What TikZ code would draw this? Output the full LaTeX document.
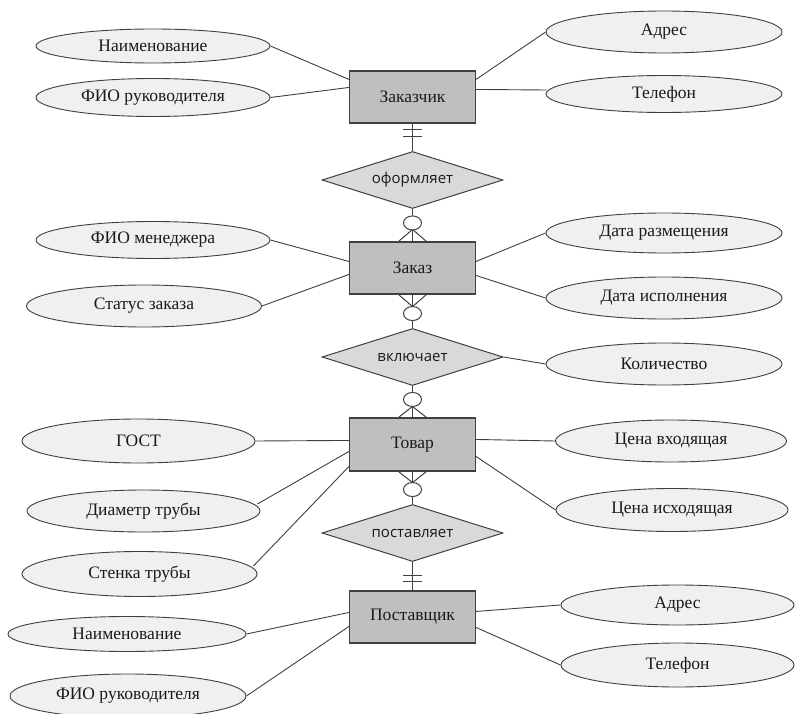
\documentclass[tikz,border=0pt]{standalone}
\usepackage{fontspec}
\setmainfont{Liberation Serif}
\newfontfamily\serf{Liberation Serif}
\newfontfamily\relfont{Open Sans}
\usetikzlibrary{shapes.geometric,calc}
\definecolor{entfill}{HTML}{BFBFBF}
\definecolor{relfill}{HTML}{D9D9D9}
\definecolor{attfill}{HTML}{F0F0F0}
\definecolor{edgec}{HTML}{404040}
\definecolor{txtc}{HTML}{1A1A1A}
\begin{document}
\begin{tikzpicture}[x=1pt,y=-1pt,
  entity/.style={draw=edgec,line width=1.1pt,fill=entfill,rectangle,minimum width=126pt,minimum height=52pt,inner sep=0pt,text=txtc,font=\serf\fontsize{17.5}{20}\selectfont},
  rel/.style={draw=edgec,line width=1pt,fill=relfill,diamond,aspect=3.2,minimum width=181pt,minimum height=57pt,inner sep=0pt,text=txtc,font=\relfont\fontsize{15}{18}\selectfont},
  attr/.style={draw=edgec,line width=0.9pt,fill=attfill,ellipse,inner sep=0pt,text=txtc,font=\serf\fontsize{17.5}{20}\selectfont},
  sz/.style 2 args={minimum width=#1pt,minimum height=#2pt},
  link/.style={draw=edgec,line width=0.9pt},
  crowline/.style={draw=edgec,line width=1pt},
  ring/.style={draw=edgec,line width=1pt,fill=white,ellipse,inner sep=0pt,minimum width=18pt,minimum height=14pt}
]
\fill[white] (0,0) rectangle (795,714);
\useasboundingbox (0,0) rectangle (795,714);

% entities
\node[entity] (zk) at (412.5,97) {Заказчик};
\node[entity] (zz) at (412.5,268) {Заказ};
\node[entity,minimum height=53pt] (tv) at (412.5,444.5) {Товар};
\node[entity] (ps) at (412.5,617) {Поставщик};

% relationships
\node[rel] (d1) at (412.5,180) {оформляет};
\node[rel] (d2) at (412.5,357) {включает};
\node[rel] (d3) at (412.5,533) {поставляет};

% attributes
\node[attr,sz={234}{34}] (a1) at (153,46) {Наименование};
\node[attr,sz={234}{38}] (a2) at (153,97.5) {ФИО руководителя};
\node[attr,sz={236}{42}] (a3) at (664,32) {Адрес};
\node[attr,sz={236}{37}] (a4) at (664,94) {Телефон};

\node[attr,sz={234}{37}] (a5) at (153,240) {ФИО менеджера};
\node[attr,sz={235}{42}] (a6) at (144,306) {Статус заказа};
\node[attr,sz={236}{40}] (a7) at (664,233) {Дата размещения};
\node[attr,sz={236}{42}] (a8) at (664,298) {Дата исполнения};
\node[attr,sz={236}{42}] (a9) at (664,364) {Количество};

\node[attr,sz={233}{44}] (a10) at (138.5,441) {ГОСТ};
\node[attr,sz={233}{42}] (a11) at (143.5,511) {Диаметр трубы};
\node[attr,sz={235}{45}] (a12) at (139.5,574) {Стенка трубы};
\node[attr,sz={231}{42}] (a13) at (671,441) {Цена входящая};
\node[attr,sz={232}{43}] (a14) at (672,510) {Цена исходящая};

\node[attr,sz={238}{35}] (a15) at (127,634) {Наименование};
\node[attr,sz={236}{44}] (a16) at (128,696) {ФИО руководителя};
\node[attr,sz={233}{40}] (a17) at (677.5,605) {Адрес};
\node[attr,sz={233}{44}] (a18) at (677.5,665) {Телефон};

% attribute links
\draw[link] (a1.east) -- ($(zk.north west)+(0,9)$);
\draw[link] (a2.east) -- ($(zk.north west)+(0,17)$);
\draw[link] (a3.west) -- ($(zk.north east)+(0,9)$);
\draw[link] ($(a4.west)+(1,-4)$) -- ($(zk.north east)+(0,19)$);

\draw[link] (a5.east) -- ($(zz.north west)+(0,20)$);
\draw[link] (a6.east) -- ($(zz.north west)+(0,33)$);
\draw[link] (a7.west) -- ($(zz.north east)+(0,20)$);
\draw[link] (a8.west) -- ($(zz.north east)+(0,34)$);
\draw[link] (d2.east) -- (a9.west);

\draw[link] (a10.east) -- ($(tv.north west)+(0,23)$);
\draw[link] ($(a11.east)+(-3,-7)$) -- ($(tv.north west)+(0,34)$);
\draw[link] ($(a12.east)+(-4,-8)$) -- ($(tv.north west)+(0,49)$);
\draw[link] (a13.west) -- ($(tv.north east)+(0,22)$);
\draw[link] (a14.west) -- ($(tv.north east)+(0,39)$);

\draw[link] (a15.east) -- ($(ps.north west)+(0,22)$);
\draw[link] (a16.east) -- ($(ps.north west)+(0,36)$);
\draw[link] (a17.west) -- ($(ps.north east)+(0,21)$);
\draw[link] (a18.west) -- ($(ps.north east)+(0,37)$);

% relationship links
\draw[crowline] (zk.south) -- (d1.north);
\draw[crowline] (d1.south) -- (zz.north);
\draw[crowline] (zz.south) -- (d2.north);
\draw[crowline] (d2.south) -- (tv.north);
\draw[crowline] (tv.south) -- (d3.north);
\draw[crowline] (d3.south) -- (ps.north);

% one-and-only-one bars
\draw[crowline] ($(zk.south)+(-9.5,6)$) -- +(19,0);
\draw[crowline] ($(zk.south)+(-9.5,13)$) -- +(19,0);
\draw[crowline] ($(ps.north)+(-9.5,-15)$) -- +(19,0);
\draw[crowline] ($(ps.north)+(-9.5,-9)$) -- +(19,0);

% crow's feet
\draw[crowline] ($(zz.north)+(-14,0)$) -- ($(zz.north)+(0,-12)$) -- ($(zz.north)+(14,0)$);
\draw[crowline] ($(zz.south)+(-14,0)$) -- ($(zz.south)+(0,12)$) -- ($(zz.south)+(14,0)$);
\draw[crowline] ($(tv.north)+(-14,0)$) -- ($(tv.north)+(0,-11)$) -- ($(tv.north)+(14,0)$);
\draw[crowline] ($(tv.south)+(-14,0)$) -- ($(tv.south)+(0,11)$) -- ($(tv.south)+(14,0)$);

% optional rings
\node[ring] (r1) at ($(zz.north)+(0,-18.5)$) {};
\node[ring] (r2) at ($(zz.south)+(0,19)$) {};
\node[ring] (r3) at ($(tv.north)+(0,-18)$) {};
\node[ring] (r4) at ($(tv.south)+(0,18)$) {};
\end{tikzpicture}
\end{document}
